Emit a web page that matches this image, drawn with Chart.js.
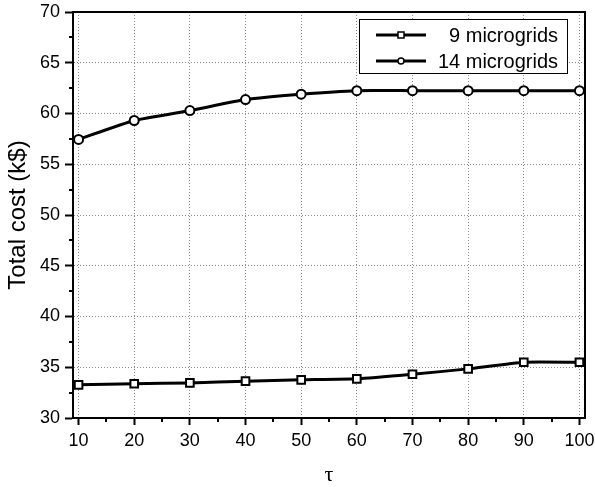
<!DOCTYPE html>
<html>
<head>
<meta charset="utf-8">
<script src="https://cdn.jsdelivr.net/npm/chart.js@4.4.1/dist/chart.umd.min.js"></script>
<style>
  html, body { margin: 0; padding: 0; background: #fff; }
  #wrap { width: 595px; height: 487px; }
</style>
</head>
<body>
<div id="wrap"><canvas id="myChart" width="595" height="487"></canvas></div>
<script>
// tau values on the x axis
const tau = [10, 20, 30, 40, 50, 60, 70, 80, 90, 100];
// total cost (k$)
const cost9 = [33.27, 33.37, 33.46, 33.63, 33.76, 33.86, 34.31, 34.84, 35.49, 35.49];
const cost14 = [57.45, 59.31, 60.29, 61.37, 61.9, 62.25, 62.25, 62.25, 62.25, 62.25];
const seriesNames = ['9 microgrids', '14 microgrids'];
// tick labels
const xTickLabels = [10, 20, 30, 40, 50, 60, 70, 80, 90, 100];
const yTickLabels = [30, 35, 40, 45, 50, 55, 60, 65, 70];

const FONT = 'Liberation Sans, Arial, Helvetica, sans-serif';

// major ticks plus a minor tick half way between each pair
function withMinor(major) {
  const out = [];
  for (let i = 0; i < major.length; i++) {
    out.push({ value: major[i], major: true });
    if (i < major.length - 1) out.push({ value: (major[i] + major[i + 1]) / 2, major: false });
  }
  return out;
}

function points(ys) {
  return tau.map((t, i) => ({ x: t, y: ys[i] }));
}

// frame round the plot area + short minor ticks
const framePlugin = {
  id: 'frame',
  afterDraw(chart) {
    const a = chart.chartArea;
    const ctx = chart.ctx;
    const xs = chart.scales.x, ys = chart.scales.y;
    ctx.save();
    ctx.strokeStyle = '#000';
    ctx.lineWidth = 2;
    ctx.strokeRect(a.left, a.top, a.right - a.left, a.bottom - a.top);
    ctx.beginPath();
    xs.ticks.filter(t => !t.major).forEach(t => {
      const px = Math.round(xs.getPixelForValue(t.value));
      ctx.moveTo(px, a.bottom);
      ctx.lineTo(px, a.bottom + 4);
    });
    ys.ticks.filter(t => !t.major).forEach(t => {
      const py = Math.round(ys.getPixelForValue(t.value));
      ctx.moveTo(a.left, py);
      ctx.lineTo(a.left - 4, py);
    });
    ctx.stroke();
    ctx.restore();
  }
};

// legend box inside the plot, top right
const legendPlugin = {
  id: 'boxLegend',
  afterDraw(chart) {
    const ctx = chart.ctx;
    const box = { x: 359.5, y: 19.5, w: 208, h: 54 };
    ctx.save();
    ctx.fillStyle = '#fff';
    ctx.fillRect(box.x, box.y, box.w, box.h);
    ctx.strokeStyle = '#000';
    ctx.lineWidth = 1;
    ctx.strokeRect(box.x, box.y, box.w, box.h);

    chart.data.datasets.forEach((ds, i) => {
      const ly = 35 + i * 26;
      ctx.strokeStyle = '#000';
      ctx.lineWidth = 3;
      ctx.beginPath();
      ctx.moveTo(376, ly);
      ctx.lineTo(426, ly);
      ctx.stroke();

      ctx.lineWidth = 1.5;
      ctx.fillStyle = '#fff';
      if (ds.pointStyle === 'rect') {
        ctx.fillRect(398, ly - 3, 6, 6);
        ctx.strokeRect(398, ly - 3, 6, 6);
      } else {
        ctx.beginPath();
        ctx.arc(401, ly, 3, 0, Math.PI * 2);
        ctx.fill();
        ctx.stroke();
      }

      ctx.fillStyle = '#000';
      ctx.font = '20px ' + FONT;
      ctx.textAlign = 'right';
      ctx.textBaseline = 'alphabetic';
      ctx.fillText(ds.label, 558, ly + 7);
    });
    ctx.restore();
  }
};

const gridColor = (c) => (c.tick && c.tick.major) ? '#8c8c8c' : 'rgba(0,0,0,0)';
const tickColor = (c) => (c.tick && c.tick.major) ? '#000' : 'rgba(0,0,0,0)';

new Chart('myChart', {
  type: 'line',
  data: {
    datasets: [{
      label: seriesNames[0],
      data: points(cost9),
      borderColor: '#000',
      borderWidth: 3,
      pointStyle: 'rect',
      pointRadius: 5.4,
      pointBorderWidth: 2,
      pointBackgroundColor: '#fff',
      pointBorderColor: '#000',
      tension: 0.15,
      fill: false
    }, {
      label: seriesNames[1],
      data: points(cost14),
      borderColor: '#000',
      borderWidth: 3,
      pointStyle: 'circle',
      pointRadius: 4.5,
      pointBorderWidth: 2,
      pointBackgroundColor: '#fff',
      pointBorderColor: '#000',
      tension: 0.15,
      fill: false
    }]
  },
  options: {
    responsive: false,
    animation: false,
    layout: { padding: { left: 0, top: 12, right: 10, bottom: 0 } },
    plugins: {
      legend: { display: false },
      tooltip: { enabled: false }
    },
    scales: {
      x: {
        type: 'linear',
        min: 9,
        max: 101,
        afterBuildTicks(scale) { scale.ticks = withMinor(xTickLabels); },
        afterFit(scale) {
          scale.height = 69;
          scale.paddingLeft = 0;
          scale.paddingRight = 0;
        },
        ticks: {
          autoSkip: false,
          maxRotation: 0,
          padding: 5,
          color: '#000',
          font: { family: FONT, size: 18 },
          callback: (v) => xTickLabels.includes(v) ? String(v) : ''
        },
        grid: {
          color: gridColor,
          lineWidth: 1,
          tickColor: tickColor,
          tickWidth: 2,
          tickLength: 7,
          tickBorderDash: []
        },
        border: { display: true, color: '#000', width: 2, dash: [1, 2] },
        title: {
          display: true,
          text: 'τ',
          color: '#000',
          font: { family: 'Liberation Serif, Times New Roman, serif', size: 22, lineHeight: 1.1 },
          padding: { top: 0, bottom: 0 }
        }
      },
      y: {
        type: 'linear',
        min: 30,
        max: 70,
        afterBuildTicks(scale) { scale.ticks = withMinor(yTickLabels); },
        afterFit(scale) {
          scale.width = 73;
          scale.paddingTop = 0;
          scale.paddingBottom = 0;
        },
        ticks: {
          autoSkip: false,
          padding: 5,
          color: '#000',
          font: { family: FONT, size: 18 },
          callback: (v) => yTickLabels.includes(v) ? String(v) : ''
        },
        grid: {
          color: gridColor,
          lineWidth: 1,
          tickColor: tickColor,
          tickWidth: 2,
          tickLength: 8,
          tickBorderDash: []
        },
        border: { display: true, color: '#000', width: 2, dash: [1, 2] },
        title: {
          display: true,
          text: 'Total cost (k$)',
          color: '#000',
          font: { family: FONT, size: 24 },
          padding: { top: 4, bottom: 4 }
        }
      }
    }
  },
  plugins: [framePlugin, legendPlugin]
});
</script>
</body>
</html>
